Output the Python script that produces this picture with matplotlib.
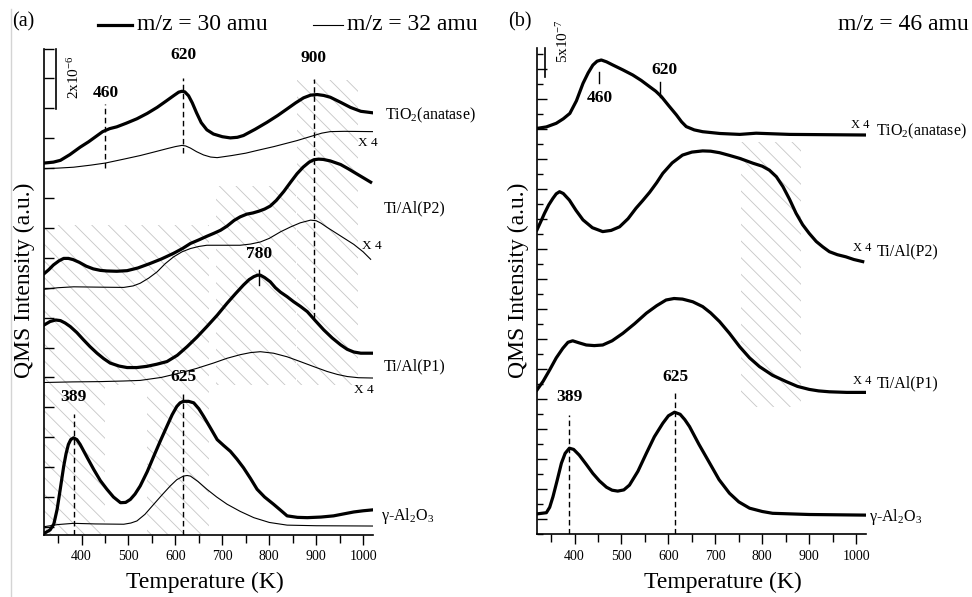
import matplotlib
matplotlib.use("Agg")
import matplotlib.pyplot as plt
from matplotlib.lines import Line2D
from matplotlib.patches import Rectangle
from matplotlib.ticker import MultipleLocator

plt.rcParams["font.family"] = ["Liberation Serif", "DejaVu Serif"]
plt.rcParams["mathtext.fontset"] = "custom"
plt.rcParams["mathtext.rm"] = "Liberation Serif"
plt.rcParams["mathtext.it"] = "Liberation Serif:italic"
plt.rcParams["mathtext.bf"] = "Liberation Serif:bold"
plt.rcParams["hatch.linewidth"] = 0.6

# ---- (a) m/z = 30 (thick) / m/z = 32 (thin), offset traces, units of 1e-6 ----
tio2_30_T = [321, 340, 355, 375, 397, 415, 430, 445, 460, 475, 495, 518, 540, 561, 580, 596, 607, 614, 620, 628, 636, 645, 655, 667, 681, 700, 717, 732, 745, 770, 795, 818, 838, 856, 873, 888, 902, 916, 930, 952, 973, 995, 1020]
tio2_30_y = [12.17, 12.20, 12.26, 12.45, 12.70, 12.88, 13.05, 13.22, 13.32, 13.38, 13.50, 13.65, 13.83, 14.03, 14.24, 14.42, 14.54, 14.57, 14.55, 14.42, 14.18, 13.85, 13.52, 13.28, 13.14, 13.05, 13.01, 13.03, 13.09, 13.30, 13.53, 13.76, 13.98, 14.18, 14.35, 14.44, 14.46, 14.43, 14.37, 14.20, 14.03, 13.90, 13.85]
tio2_32_T = [321, 350, 383, 420, 451, 490, 525, 555, 582, 600, 614, 622, 632, 645, 660, 675, 689, 720, 750, 774, 810, 859, 880, 895, 912, 930, 960, 1020]
tio2_32_y = [11.98, 12.00, 12.03, 12.10, 12.17, 12.30, 12.42, 12.54, 12.65, 12.72, 12.76, 12.74, 12.67, 12.55, 12.44, 12.37, 12.35, 12.42, 12.50, 12.59, 12.72, 12.92, 13.02, 13.09, 13.17, 13.22, 13.23, 13.22]

p2_30_T = [321, 330, 340, 352, 362, 372, 382, 395, 410, 425, 440, 454, 475, 497, 520, 546, 570, 596, 615, 632, 650, 667, 682, 696, 710, 725, 738, 752, 765, 778, 790, 802, 815, 831, 845, 859, 872, 885, 895, 905, 915, 930, 952, 968, 985, 1000, 1016]
p2_30_y = [8.48, 8.60, 8.76, 8.90, 8.98, 8.98, 8.94, 8.85, 8.72, 8.63, 8.58, 8.56, 8.55, 8.57, 8.66, 8.81, 8.96, 9.15, 9.31, 9.48, 9.60, 9.72, 9.82, 9.92, 10.06, 10.25, 10.37, 10.46, 10.50, 10.56, 10.63, 10.73, 10.92, 11.22, 11.52, 11.81, 12.03, 12.20, 12.28, 12.30, 12.29, 12.24, 12.12, 11.98, 11.82, 11.68, 11.53]
p2_32_T = [321, 350, 383, 430, 490, 510, 525, 543, 561, 578, 596, 614, 632, 650, 667, 700, 738, 760, 781, 800, 824, 845, 866, 888, 900, 910, 923, 937, 950, 965, 980, 1000, 1016]
p2_32_y = [7.95, 8.00, 8.03, 8.02, 8.01, 8.06, 8.15, 8.32, 8.53, 8.80, 9.03, 9.20, 9.31, 9.38, 9.42, 9.42, 9.42, 9.46, 9.53, 9.65, 9.87, 10.03, 10.17, 10.26, 10.24, 10.16, 10.02, 9.88, 9.75, 9.60, 9.45, 9.20, 8.95]

p1_30_T = [321, 333, 345, 355, 365, 376, 390, 404, 418, 433, 447, 461, 480, 497, 518, 539, 560, 582, 604, 625, 646, 667, 689, 710, 728, 745, 757, 767, 775, 781, 790, 802, 813, 824, 838, 852, 866, 881, 898, 916, 934, 952, 966, 980, 995, 1020]
p1_30_y = [6.76, 6.87, 6.92, 6.90, 6.82, 6.70, 6.50, 6.26, 6.03, 5.81, 5.63, 5.48, 5.38, 5.33, 5.33, 5.37, 5.44, 5.53, 5.74, 6.03, 6.35, 6.70, 7.08, 7.48, 7.80, 8.09, 8.27, 8.37, 8.42, 8.42, 8.34, 8.20, 8.00, 7.85, 7.70, 7.53, 7.38, 7.20, 6.90, 6.59, 6.32, 6.09, 5.94, 5.85, 5.81, 5.81]
p1_32_T = [321, 380, 440, 490, 525, 570, 610, 645, 681, 710, 738, 760, 781, 809, 838, 866, 895, 923, 945, 966, 990, 1020]
p1_32_y = [4.83, 4.85, 4.86, 4.88, 4.90, 5.00, 5.15, 5.30, 5.48, 5.64, 5.76, 5.83, 5.86, 5.81, 5.69, 5.53, 5.36, 5.20, 5.10, 5.03, 4.99, 4.98]

al_30_T = [321, 333, 341, 348, 355, 362, 367, 372, 377, 383, 390, 397, 411, 426, 440, 454, 468, 483, 494, 504, 514, 525, 540, 554, 568, 582, 593, 603, 610, 617, 628, 639, 650, 660, 675, 689, 703, 717, 731, 745, 760, 774, 790, 809, 824, 838, 860, 881, 910, 937, 960, 980, 1000, 1020]
al_30_y = [-0.21, -0.10, 0.10, 0.59, 1.30, 2.03, 2.45, 2.76, 2.92, 2.98, 2.92, 2.76, 2.35, 1.92, 1.55, 1.26, 1.00, 0.81, 0.82, 0.92, 1.10, 1.37, 1.85, 2.37, 2.88, 3.37, 3.75, 4.03, 4.15, 4.20, 4.20, 4.15, 3.95, 3.70, 3.30, 2.92, 2.72, 2.53, 2.27, 1.98, 1.62, 1.26, 1.00, 0.76, 0.56, 0.37, 0.32, 0.31, 0.33, 0.37, 0.44, 0.50, 0.54, 0.57]
al_32_T = [321, 350, 383, 430, 490, 505, 518, 535, 554, 572, 589, 603, 617, 625, 632, 648, 667, 688, 710, 738, 767, 800, 838, 900, 1020]
al_32_y = [0.01, 0.08, 0.12, 0.10, 0.09, 0.13, 0.20, 0.42, 0.76, 1.08, 1.37, 1.58, 1.70, 1.72, 1.70, 1.52, 1.26, 1.00, 0.76, 0.52, 0.31, 0.15, 0.06, 0.04, 0.03]

# ---- (b) m/z = 46 ----
tio2_46_T = [320, 340, 361, 376, 390, 404, 418, 429, 439, 448, 457, 468, 482, 503, 524, 542, 560, 573, 585, 600, 617, 628, 638, 655, 673, 710, 752, 787, 858, 1018]
tio2_46_y = [13.03, 13.08, 13.20, 13.35, 13.53, 13.95, 14.53, 14.88, 15.14, 15.27, 15.31, 15.25, 15.14, 14.98, 14.81, 14.63, 14.42, 14.27, 14.09, 13.80, 13.48, 13.25, 13.09, 12.98, 12.92, 12.86, 12.83, 12.87, 12.83, 12.81]
p2_46_T = [320, 328, 336, 345, 354, 361, 368, 376, 389, 403, 418, 438, 460, 478, 496, 514, 531, 545, 560, 575, 588, 608, 630, 650, 673, 690, 709, 730, 752, 780, 800, 815, 830, 844, 858, 872, 886, 900, 915, 929, 943, 960, 978, 995, 1014]
p2_46_y = [9.65, 9.92, 10.20, 10.48, 10.70, 10.85, 10.92, 10.86, 10.64, 10.30, 9.98, 9.72, 9.59, 9.63, 9.75, 10.02, 10.37, 10.62, 10.90, 11.22, 11.53, 11.88, 12.14, 12.24, 12.28, 12.27, 12.22, 12.13, 12.03, 11.87, 11.77, 11.64, 11.42, 11.09, 10.67, 10.20, 9.82, 9.53, 9.26, 9.08, 8.92, 8.82, 8.75, 8.66, 8.59]
p1_46_T = [320, 333, 347, 361, 375, 386, 396, 410, 425, 442, 460, 480, 503, 528, 553, 575, 595, 612, 630, 652, 673, 690, 709, 730, 752, 773, 794, 822, 851, 875, 900, 920, 943, 980, 1018]
p1_46_y = [4.31, 4.60, 4.98, 5.38, 5.70, 5.90, 5.95, 5.88, 5.81, 5.79, 5.81, 5.95, 6.20, 6.52, 6.87, 7.12, 7.31, 7.36, 7.34, 7.25, 7.09, 6.88, 6.59, 6.20, 5.75, 5.38, 5.09, 4.80, 4.59, 4.43, 4.33, 4.28, 4.25, 4.23, 4.23]
al_46_T = [320, 340, 347, 354, 363, 372, 380, 389, 398, 410, 425, 439, 453, 468, 480, 492, 505, 517, 535, 553, 570, 588, 600, 613, 625, 635, 645, 665, 688, 708, 730, 750, 773, 800, 822, 900, 1018]
al_46_y = [0.18, 0.22, 0.40, 0.75, 1.30, 1.87, 2.20, 2.37, 2.33, 2.14, 1.83, 1.53, 1.28, 1.07, 0.97, 0.94, 0.98, 1.14, 1.60, 2.20, 2.75, 3.20, 3.45, 3.57, 3.50, 3.32, 3.09, 2.50, 1.87, 1.32, 0.87, 0.58, 0.37, 0.26, 0.20, 0.16, 0.14]

# hatched temperature windows: (T0, T1, y0, y1)
hatch_a = [(320, 450, -0.27, 10.1), (450, 540, 4.75, 10.1), (540, 672, -0.27, 10.1),
           (686, 856, 4.75, 11.4), (859, 990, 4.75, 14.95)]
hatch_b = [(755, 883, 3.75, 12.59)]

# peak markers: (T, y0, y1, label, label_y)
dashes_a = [(451, 12.0, 14.16, "460", 14.26), (617, 12.52, 15.02, "620", 15.52),
            (895, 6.99, 14.99, "900", 15.42), (383, -0.27, 3.76, "389", 4.09),
            (617, -0.27, 4.52, "625", 4.76)]
dashes_b = [(389, -0.5, 3.48, "389", 3.81), (615, -0.5, 4.24, "625", 4.48)]

THICK = 2.3
THIN = 0.8


def _style(ax, ylim, minor_y):
    ax.set_xlim(320, 1021)
    ax.set_ylim(*ylim)
    for s in ("top", "right"):
        ax.spines[s].set_visible(False)
    for s in ("left", "bottom"):
        ax.spines[s].set_linewidth(1.2)
    ax.xaxis.set_major_locator(MultipleLocator(100))
    ax.xaxis.set_minor_locator(MultipleLocator(50))
    ax.yaxis.set_major_locator(MultipleLocator(1))
    if minor_y:
        ax.yaxis.set_minor_locator(MultipleLocator(0.5))
    ax.tick_params(axis="x", which="major", direction="out", length=7, width=1, labelsize=10, pad=4)
    ax.tick_params(axis="x", which="minor", direction="out", length=6, width=1)
    ax.tick_params(axis="y", which="major", direction="in", length=7, width=1, labelleft=False)
    ax.tick_params(axis="y", which="minor", direction="in", length=4, width=1)


def _hatch(ax, regions):
    for t0, t1, y0, y1 in regions:
        ax.add_patch(Rectangle((t0, y0), t1 - t0, y1 - y0, facecolor="none",
                               edgecolor="#c6c6c6", linewidth=0, hatch="\\\\", zorder=1))


def _dashes(ax, marks):
    for t, y0, y1, lab, ly in marks:
        ax.plot([t, t], [y0, y1], color="k", lw=1.0, ls=(0, (4, 2.5)), zorder=3)
        ax.text(t, ly, lab, ha="center", va="bottom", fontsize=12.5, fontweight="bold")


def _draw_a(ax):
    _style(ax, (-0.27, 16.0), False)
    _hatch(ax, hatch_a)
    for T, y in ((tio2_30_T, tio2_30_y), (p2_30_T, p2_30_y), (p1_30_T, p1_30_y), (al_30_T, al_30_y)):
        ax.plot(T, y, color="k", lw=THICK, zorder=4)
    for T, y in ((tio2_32_T, tio2_32_y), (p2_32_T, p2_32_y), (p1_32_T, p1_32_y), (al_32_T, al_32_y)):
        ax.plot(T, y, color="k", lw=THIN, zorder=4)
    _dashes(ax, dashes_a)
    # 780 tick on Ti/Al(P1)
    ax.plot([779, 779], [8.09, 8.59], color="k", lw=1.0, zorder=5)
    ax.text(779, 8.85, "780", ha="center", va="bottom", fontsize=12.5, fontweight="bold")
    # scale bar
    ax.plot([346, 346], [16.0, 13.99], color="k", lw=1.2, clip_on=False)
    ax.text(383, 15.03, "2x10$^{-6}$", rotation=90, ha="center", va="center", fontsize=11)
    # curve labels
    ax.text(1047, 13.75, "TiO$_2$(anatase)", ha="left", va="center", fontsize=11.5)
    ax.text(990, 12.85, "X 4", ha="left", va="center", fontsize=9.5)
    ax.text(1043, 10.66, "Ti/Al(P2)", ha="left", va="center", fontsize=11.5)
    ax.text(998, 9.40, "X 4", ha="left", va="center", fontsize=9.5)
    ax.text(1043, 5.37, "Ti/Al(P1)", ha="left", va="center", fontsize=11.5)
    ax.text(980, 4.59, "X 4", ha="left", va="center", fontsize=9.5)
    ax.text(1037, 0.37, "γ-Al$_2$O$_3$", ha="left", va="center", fontsize=11.5)


def _draw_b(ax):
    _style(ax, (-0.5, 15.7), True)
    _hatch(ax, hatch_b)
    for T, y in ((tio2_46_T, tio2_46_y), (p2_46_T, p2_46_y), (p1_46_T, p1_46_y), (al_46_T, al_46_y)):
        ax.plot(T, y, color="k", lw=THICK, zorder=4)
    _dashes(ax, dashes_b)
    # peak ticks on TiO2
    ax.plot([453, 453], [14.53, 14.92], color="k", lw=1.0)
    ax.text(453, 14.04, "460", ha="center", va="center", fontsize=12.5, fontweight="bold")
    ax.plot([583, 583], [14.09, 14.59], color="k", lw=1.0)
    ax.text(592, 14.98, "620", ha="center", va="center", fontsize=12.5, fontweight="bold")
    # scale bar
    ax.plot([338, 338], [15.7, 14.74], color="k", lw=1.2, clip_on=False)
    ax.text(375, 15.94, "5x10$^{-7}$", rotation=90, ha="center", va="center", fontsize=11)
    # curve labels
    ax.text(990, 13.14, "X 4", ha="left", va="center", fontsize=9)
    ax.text(1043, 12.92, "TiO$_2$(anatase)", ha="left", va="center", fontsize=11.5)
    ax.text(993, 9.05, "X 4", ha="left", va="center", fontsize=9)
    ax.text(1043, 8.92, "Ti/Al(P2)", ha="left", va="center", fontsize=11.5)
    ax.text(993, 4.62, "X 4", ha="left", va="center", fontsize=9)
    ax.text(1043, 4.54, "Ti/Al(P1)", ha="left", va="center", fontsize=11.5)
    ax.text(1028, 0.09, "γ-Al$_2$O$_3$", ha="left", va="center", fontsize=11.5)


fig = plt.figure(figsize=(9.72, 5.97), dpi=100)
ax_a = fig.add_axes([44 / 972, 62 / 597, 329 / 972, 486.5 / 597])
ax_b = fig.add_axes([537 / 972, 62.7 / 597, 329 / 972, 486 / 597])
_draw_a(ax_a)
_draw_b(ax_b)

# header / legend
fig.text(12 / 972, 1 - 22 / 597, "(a)", ha="left", va="center", fontsize=14.5)
fig.text(508 / 972, 1 - 22 / 597, "(b)", ha="left", va="center", fontsize=14.5)
fig.add_artist(Line2D([98 / 972, 132 / 972], [1 - 25 / 597] * 2, color="k", lw=THICK))
fig.text(137 / 972, 1 - 25 / 597, "m/z = 30 amu", ha="left", va="center", fontsize=17)
fig.add_artist(Line2D([313 / 972, 343 / 972], [1 - 25 / 597] * 2, color="k", lw=THIN))
fig.text(347 / 972, 1 - 25 / 597, "m/z = 32 amu", ha="left", va="center", fontsize=17)
fig.text(838 / 972, 1 - 25 / 597, "m/z = 46 amu", ha="left", va="center", fontsize=17)

# axis titles
fig.text(24 / 972, 1 - 280 / 597, "QMS Intensity (a.u.)", rotation=90, ha="center", va="center", fontsize=17)
fig.text(518 / 972, 1 - 280 / 597, "QMS Intensity (a.u.)", rotation=90, ha="center", va="center", fontsize=17)
fig.text(205 / 972, 1 - 582 / 597, "Temperature (K)", ha="center", va="center", fontsize=17)
fig.text(723 / 972, 1 - 582 / 597, "Temperature (K)", ha="center", va="center", fontsize=17)

# faint page edge on the left
fig.add_artist(Line2D([10.5 / 972] * 2, [0, 0.985], color="#d4d4d4", lw=1))

fig.savefig("out.png", dpi=100)
